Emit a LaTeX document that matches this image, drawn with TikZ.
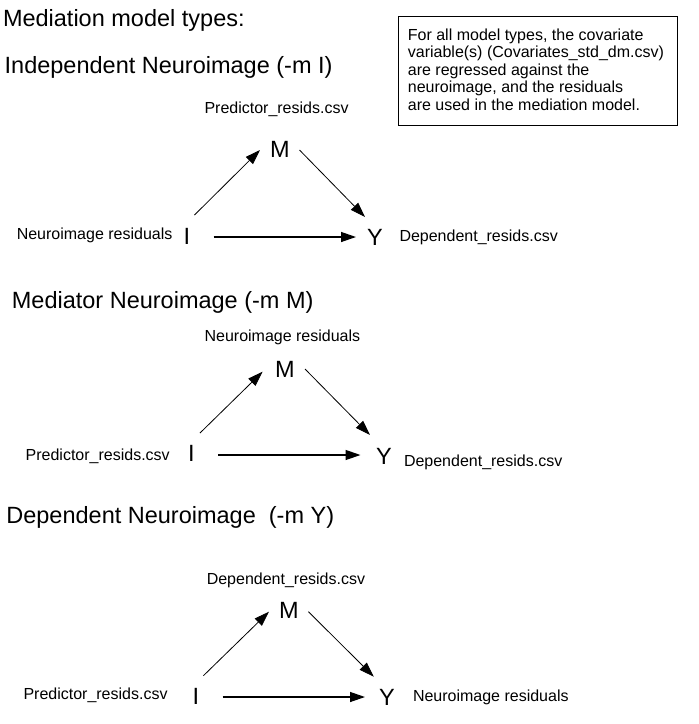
\documentclass[tikz,border=0pt]{standalone}
\usepackage{fontspec}
\setmainfont{Liberation Sans}
\usetikzlibrary{arrows.meta}
\begin{document}
\begin{tikzpicture}[x=1pt,y=-1pt,
  titletext/.style={inner sep=0pt,anchor=base west,font=\fontsize{23.5}{28}\selectfont},
  lbltext/.style={inner sep=0pt,anchor=base west,font=\fontsize{16}{19}\selectfont},
  varletter/.style={inner sep=0pt,anchor=base,font=\fontsize{23.5}{28}\selectfont},
  notebox/.style={draw=black,line width=1pt,minimum width=279pt,minimum height=109pt,inner sep=0pt},
  notetext/.style={inner sep=0pt,anchor=base west,align=left,font=\fontsize{16}{17.5}\selectfont},
  conn/.style={draw=black,line width=0.8pt,-{Triangle[length=15pt,width=10pt]}},
  hconn/.style={conn,line width=1.3pt,-{Triangle[length=15pt,width=10pt]}}
]
\useasboundingbox[fill=white] (0,0) rectangle (699,724);

% headings
\node[titletext] (title) at (2.8,26) {Mediation model types:};
\node[titletext] (t1) at (4.5,73) {Independent Neuroimage (-m I)};
\node[titletext] (t2) at (11.7,308.5) {Mediator Neuroimage (-m M)};
\node[titletext] (t3) at (6.2,523.5) {Dependent Neuroimage\ \ (-m Y)};

% note box
\node[notebox] (note) at (537.5,70.5) {};
\node[notetext] (notetxt) at (407.7,110) {For all model types, the covariate\\variable(s) (Covariates\_std\_dm.csv)\\are regressed against the\\neuroimage, and the residuals\\are used in the mediation model.};

% ---------- diagram 1 ----------
\node[lbltext] (p1) at (204.3,113.5) {Predictor\_resids.csv};
\node[lbltext] (n1) at (16.6,239) {Neuroimage residuals};
\node[lbltext] (d1) at (399.3,241) {Dependent\_resids.csv};
\node[varletter] (M1) at (280,157.4) {M};
\node[varletter] (I1) at (187,244) {I};
\node[varletter] (Y1) at (375,245) {Y};
\coordinate (a1s) at (194.5,215); \coordinate (a1e) at (260,150);
\coordinate (b1s) at (299.5,150); \coordinate (b1e) at (365,217);
\coordinate (c1s) at (213.6,237); \coordinate (c1e) at (356,237);
\draw[conn] (a1s) -- (a1e);
\draw[conn] (b1s) -- (b1e);
\draw[hconn] (c1s) -- (c1e);

% ---------- diagram 2 ----------
\node[lbltext] (n2) at (204.4,341) {Neuroimage residuals};
\node[lbltext] (p2) at (25.5,460) {Predictor\_resids.csv};
\node[lbltext] (d2) at (403.8,466) {Dependent\_resids.csv};
\node[varletter] (M2) at (285,377) {M};
\node[varletter] (I2) at (191.4,461) {I};
\node[varletter] (Y2) at (384,464.5) {Y};
\coordinate (a2s) at (200,433); \coordinate (a2e) at (262.6,371.7);
\coordinate (b2s) at (305,369); \coordinate (b2e) at (370,435);
\coordinate (c2s) at (218,455); \coordinate (c2e) at (360.5,455);
\draw[conn] (a2s) -- (a2e);
\draw[conn] (b2s) -- (b2e);
\draw[hconn] (c2s) -- (c2e);

% ---------- diagram 3 ----------
\node[lbltext] (d3) at (206.6,584) {Dependent\_resids.csv};
\node[lbltext] (p3) at (23.3,699) {Predictor\_resids.csv};
\node[lbltext] (n3) at (412.8,701) {Neuroimage residuals};
\node[varletter] (M3) at (289,618) {M};
\node[varletter] (I3) at (195.8,704) {I};
\node[varletter] (Y3) at (387,705) {Y};
\coordinate (a3s) at (203.4,675.7); \coordinate (a3e) at (269,611.7);
\coordinate (b3s) at (308.4,611.7); \coordinate (b3e) at (373.8,676.7);
\coordinate (c3s) at (222.5,697); \coordinate (c3e) at (365,697);
\draw[conn] (a3s) -- (a3e);
\draw[conn] (b3s) -- (b3e);
\draw[hconn] (c3s) -- (c3e);
\end{tikzpicture}
\end{document}
